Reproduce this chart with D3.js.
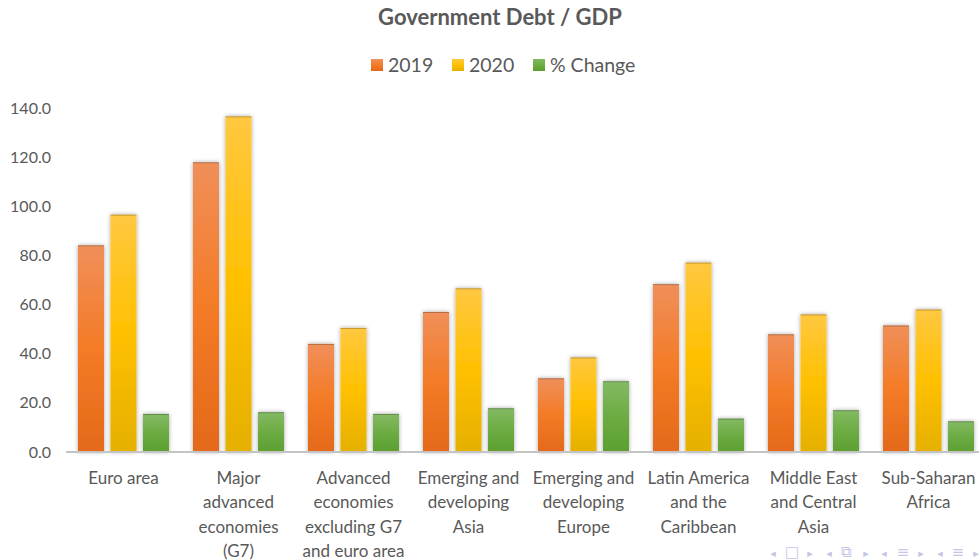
<!DOCTYPE html>
<html>
<head>
<meta charset="utf-8">
<script src="https://cdn.jsdelivr.net/npm/d3@7"></script>
<style>
  body { margin: 0; background: #fff; }
  svg { display: block; font-family: Lato, "Open Sans", sans-serif; }
</style>
</head>
<body>
<svg id="chart"></svg>
<script>
// regions on the x axis (one entry per line of the label)
const categories = [
  ["Euro area"],
  ["Major", "advanced", "economies", "(G7)"],
  ["Advanced", "economies", "excluding G7", "and euro area"],
  ["Emerging and", "developing", "Asia"],
  ["Emerging and", "developing", "Europe"],
  ["Latin America", "and the", "Caribbean"],
  ["Middle East", "and Central", "Asia"],
  ["Sub-Saharan", "Africa"]
];
const seriesNames = ["2019", "2020", "% Change"];
const debt2019 = [84.1, 117.9, 44.0, 57.0, 30.0, 68.3, 47.9, 51.5];
const debt2020 = [96.6, 136.6, 50.5, 66.6, 38.5, 77.1, 56.0, 58.0];
const pctChange = [15.5, 16.2, 15.5, 17.8, 28.8, 13.6, 17.0, 12.5];
const yTicks = [0, 20, 40, 60, 80, 100, 120, 140];

const width = 979, height = 560;
const margin = { top: 108, right: -7, bottom: 108, left: 66 };

const svg = d3.select("#chart").attr("width", width).attr("height", height);

// gradients + shadow
const defs = svg.append("defs");
const grads = {
  "2019": ["#f08f5a", "#f47b26", "#e4691a"],
  "2020": ["#ffc840", "#ffc000", "#e5b000"],
  "% Change": ["#84b964", "#6cac43", "#5c9f30"]
};
seriesNames.forEach((s, i) => {
  const g = defs.append("linearGradient").attr("id", "g" + i)
    .attr("x1", 0).attr("y1", 0).attr("x2", 0).attr("y2", 1);
  g.append("stop").attr("offset", "0%").attr("stop-color", grads[s][0]);
  g.append("stop").attr("offset", "50%").attr("stop-color", grads[s][1]);
  g.append("stop").attr("offset", "100%").attr("stop-color", grads[s][2]);
});
const f = defs.append("filter").attr("id", "shadow")
  .attr("x", "-30%").attr("y", "-10%").attr("width", "160%").attr("height", "120%");
f.append("feDropShadow").attr("dx", 0).attr("dy", 0).attr("stdDeviation", 2.2)
  .attr("flood-color", "#000").attr("flood-opacity", 0.35);

const lineShadow = defs.append("filter").attr("id", "lshadow")
  .attr("x", "-5%").attr("y", "-200%").attr("width", "110%").attr("height", "500%");
lineShadow.append("feDropShadow").attr("dx", 0).attr("dy", 0.8).attr("stdDeviation", 0.8)
  .attr("flood-color", "#000").attr("flood-opacity", 0.25);

const x0 = d3.scaleBand()
  .domain(d3.range(categories.length))
  .range([margin.left, width - margin.right]);

const x1 = d3.scaleBand()
  .domain(seriesNames)
  .range([12, 103])
  .paddingInner(0.2);

const y = d3.scaleLinear()
  .domain([0, 140])
  .range([height - margin.bottom, margin.top]);

// title
svg.append("text")
  .attr("x", 500).attr("y", 25)
  .attr("text-anchor", "middle")
  .attr("font-size", 22).attr("font-weight", "bold")
  .attr("fill", "#595959")
  .text("Government Debt / GDP");

// legend
const legendX = [371, 452, 533];
seriesNames.forEach((s, i) => {
  svg.append("rect")
    .attr("x", legendX[i]).attr("y", 59)
    .attr("width", 12).attr("height", 12)
    .attr("fill", "url(#g" + i + ")");
  svg.append("text")
    .attr("x", legendX[i] + 17).attr("y", 72)
    .attr("font-size", 19.5).attr("fill", "#595959")
    .text(s);
});

// gridlines
svg.append("g").selectAll("line")
  .data(yTicks)
  .enter().append("line")
  .attr("x1", margin.left).attr("x2", width)
  .attr("y1", d => y(d)).attr("y2", d => y(d))
  .attr("stroke", "#b8b8b8").attr("stroke-width", 2)
  .attr("filter", "url(#lshadow)");

// y axis labels
const yAxis = d3.axisLeft(y).tickValues(yTicks).tickSize(0).tickPadding(15)
  .tickFormat(d3.format(".1f"));
const ya = svg.append("g").attr("transform", "translate(" + margin.left + ",0)").call(yAxis);
ya.select(".domain").remove();
ya.selectAll("text").attr("font-size", 16).attr("fill", "#595959")
  .attr("font-family", "Lato, 'Open Sans', sans-serif");

// bars
const allSeries = [debt2019, debt2020, pctChange];
const groups = svg.append("g").selectAll("g")
  .data(categories.map((c, i) => i))
  .enter().append("g")
  .attr("transform", d => "translate(" + x0(d) + ",0)");

groups.selectAll("rect")
  .data(d => seriesNames.map((s, j) => ({ s: s, j: j, v: allSeries[j][d] })))
  .enter().append("rect")
  .attr("x", d => x1(d.s))
  .attr("y", d => y(d.v))
  .attr("width", x1.bandwidth())
  .attr("height", d => y(0) - y(d.v))
  .attr("fill", d => "url(#g" + d.j + ")")
  .attr("filter", "url(#shadow)");

groups.selectAll("line.top")
  .data(d => seriesNames.map((s, j) => ({ s: s, j: j, v: allSeries[j][d] })))
  .enter().append("line")
  .attr("class", "top")
  .attr("x1", d => x1(d.s)).attr("x2", d => x1(d.s) + x1.bandwidth())
  .attr("y1", d => y(d.v) + 0.5).attr("y2", d => y(d.v) + 0.5)
  .attr("stroke", "#000").attr("stroke-opacity", 0.25);

// baseline
svg.append("line")
  .attr("x1", margin.left).attr("x2", width)
  .attr("y1", y(0)).attr("y2", y(0))
  .attr("stroke", "#c4c4c4").attr("stroke-width", 2);

// category labels
const labels = svg.append("g").selectAll("text")
  .data(categories)
  .enter().append("text")
  .attr("text-anchor", "middle")
  .attr("font-size", 17).attr("fill", "#595959")
  .attr("transform", (d, i) => "translate(" + (x0(i) + x0.bandwidth() / 2) + ",484)");
labels.selectAll("tspan")
  .data(d => d)
  .enter().append("tspan")
  .attr("x", 0)
  .attr("dy", (d, i) => i === 0 ? 0 : 24.3)
  .text(d => d);

// navigation symbols bottom right
const nav = ["◂", "□", "▸", "◂", "⧉", "▸", "◂", "≡", "▸", "◂", "≡", "▸"];
const navX = [773, 792, 810, 829, 846, 866, 884, 903, 921, 940, 958, 976];
svg.append("g").selectAll("text")
  .data(nav)
  .enter().append("text")
  .attr("x", (d, i) => navX[i]).attr("y", 557)
  .attr("text-anchor", "middle")
  .attr("font-family", "DejaVu Sans")
  .attr("font-size", (d) => (d === "◂" || d === "▸") ? 11 : 15)
  .attr("fill", "#c5c5e6")
  .text(d => d);
</script>
</body>
</html>
